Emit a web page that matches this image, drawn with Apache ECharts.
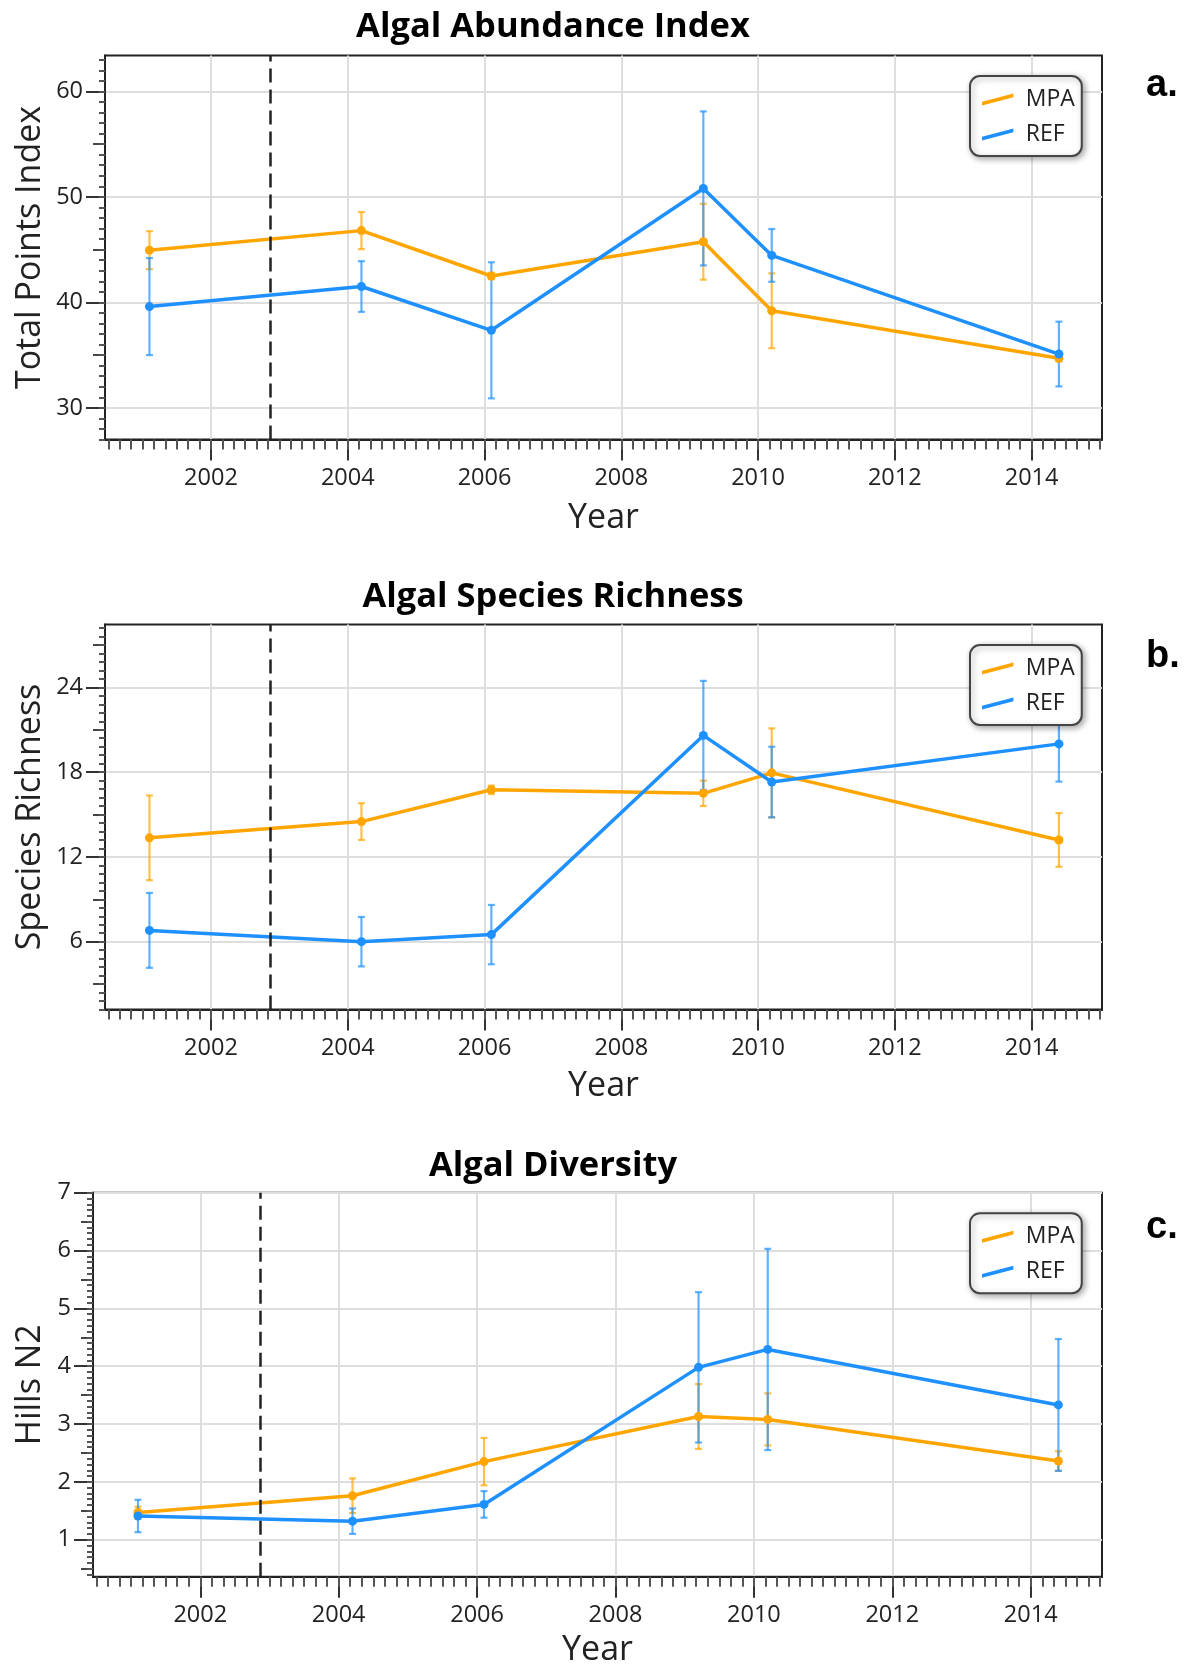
<!DOCTYPE html>
<html>
<head>
<meta charset="utf-8">
<title>Algal community indices, MPA vs reference sites</title>
<script src="https://cdn.jsdelivr.net/npm/echarts@6/dist/echarts.min.js"></script>
<style>
  html, body { margin: 0; padding: 0; background: #ffffff; }
  #chart { width: 1187px; height: 1671px; }
</style>
</head>
<body>
<div id="chart"></div>
<script>
// Survey dates (fractional years) shared by all three panels
const surveyYears = [2001.1, 2004.2, 2006.1, 2009.2, 2010.2, 2014.4];
const yearTicks = [2002, 2004, 2006, 2008, 2010, 2012, 2014];
const reserveEstablished = 2002.87;

// a. Algal abundance (total points index), mean and error
const abundanceMPA = [44.95, 46.8, 42.5, 45.75, 39.2, 34.7];
const abundanceMPAErr = [1.8, 1.76, 0.3, 3.6, 3.55, 0.3];
const abundanceREF = [39.6, 41.5, 37.35, 50.8, 44.45, 35.1];
const abundanceREFErr = [4.6, 2.4, 6.45, 7.3, 2.5, 3.07];
const abundanceTicks = [30, 40, 50, 60];

// b. Algal species richness
const richnessMPA = [13.35, 14.5, 16.75, 16.5, 17.95, 13.2];
const richnessMPAErr = [3.0, 1.3, 0.3, 0.9, 3.15, 1.9];
const richnessREF = [6.8, 6.0, 6.5, 20.6, 17.3, 20.0];
const richnessREFErr = [2.65, 1.75, 2.1, 3.86, 2.5, 2.67];
const richnessTicks = [6, 12, 18, 24];

// c. Algal diversity (Hill's N2)
const diversityMPA = [1.47, 1.76, 2.35, 3.13, 3.08, 2.36];
const diversityMPAErr = [0.1, 0.3, 0.41, 0.56, 0.45, 0.17];
const diversityREF = [1.41, 1.32, 1.61, 3.98, 4.29, 3.33];
const diversityREFErr = [0.28, 0.22, 0.23, 1.3, 1.74, 1.14];
const diversityTicks = [1, 2, 3, 4, 5, 6, 7];

const seriesNames = ['MPA', 'REF'];
const colors = { MPA: '#FFA500', REF: '#1E90FF' };

const X_MIN = 2000.45, X_MAX = 2015.03;

const panels = [
  { letter: 'a.', title: 'Algal Abundance Index', yName: 'Total Points Index',
    mpa: abundanceMPA, mpaErr: abundanceMPAErr, ref: abundanceREF, refErr: abundanceREFErr,
    yTicks: abundanceTicks, yMin: 27, yMax: 63.4, minorStep: 1, midStep: 5,
    left: 105, top: 55.5, height: 384, titleY: 27, letterY: 86, yNameGap: 58, xNameGap: 62 },
  { letter: 'b.', title: 'Algal Species Richness', yName: 'Species Richness',
    mpa: richnessMPA, mpaErr: richnessMPAErr, ref: richnessREF, refErr: richnessREFErr,
    yTicks: richnessTicks, yMin: 1.2, yMax: 28.45, minorStep: 0.6, midStep: 3,
    left: 105, top: 624.5, height: 385, titleY: 597.5, letterY: 657, yNameGap: 58, xNameGap: 60 },
  { letter: 'c.', title: 'Algal Diversity', yName: 'Hills N2',
    mpa: diversityMPA, mpaErr: diversityMPAErr, ref: diversityREF, refErr: diversityREFErr,
    yTicks: diversityTicks, yMin: 0.36, yMax: 7, minorStep: 0.1, midStep: 0.5,
    left: 93, top: 1192.7, height: 384, titleY: 1166.5, letterY: 1228, yNameGap: 46, xNameGap: 57 }
];

// Evenly spaced tick positions inside [min, max]
function stepTicks(min, max, step) {
  const out = [];
  for (let k = Math.ceil(min / step - 1e-9); k * step <= max + 1e-9; k++) {
    out.push(+(k * step).toFixed(4));
  }
  return out;
}
const xMinorTicks = stepTicks(X_MIN, X_MAX, 1 / 6);

// Vertical error bar with small caps
function errorBar(color) {
  return function (params, api) {
    const x = api.value(0);
    const top = api.coord([x, api.value(2)]);
    const bot = api.coord([x, api.value(1)]);
    const cap = 3.5;
    const style = { stroke: color, lineWidth: 2.2, opacity: 0.7 };
    return {
      type: 'group',
      children: [
        { type: 'line', shape: { x1: top[0], y1: top[1], x2: bot[0], y2: bot[1] }, style: style },
        { type: 'line', shape: { x1: top[0] - cap, y1: top[1], x2: top[0] + cap, y2: top[1] }, style: style },
        { type: 'line', shape: { x1: bot[0] - cap, y1: bot[1], x2: bot[0] + cap, y2: bot[1] }, style: style }
      ]
    };
  };
}

const grids = [], xAxes = [], yAxes = [], series = [], legends = [], graphics = [];

panels.forEach(function (p, i) {
  grids.push({
    left: p.left, right: 85, top: p.top, height: p.height,
    show: true, borderColor: '#222', borderWidth: 2, outerBoundsMode: 'none'
  });

  const xBase = { type: 'value', gridIndex: i, min: X_MIN, max: X_MAX, position: 'bottom' };
  xAxes.push(Object.assign({}, xBase, {
    name: 'Year', nameLocation: 'middle', nameGap: p.xNameGap, nameMoveOverlap: false,
    nameTextStyle: { fontSize: 34, color: '#222' },
    axisLine: { onZero: false, lineStyle: { color: '#222', width: 2 } },
    axisTick: { customValues: yearTicks, length: 21, lineStyle: { color: '#333', width: 2 } },
    axisLabel: { customValues: yearTicks, margin: 27, fontSize: 23.5, color: '#222',
                 formatter: function (v) { return String(v); } },
    splitLine: { show: true, lineStyle: { color: '#dedede', width: 2 } }
  }));
  xAxes.push(Object.assign({}, xBase, {
    axisLine: { show: false },
    axisTick: { customValues: xMinorTicks, length: 10, lineStyle: { color: '#555', width: 2 } },
    axisLabel: { show: false },
    splitLine: { show: false }
  }));

  const yBase = { type: 'value', gridIndex: i, min: p.yMin, max: p.yMax, position: 'left' };
  const midTicks = stepTicks(p.yMin, p.yMax, p.midStep).filter(function (v) {
    return p.yTicks.indexOf(v) < 0;
  });
  yAxes.push(Object.assign({}, yBase, {
    name: p.yName, nameLocation: 'middle', nameGap: p.yNameGap, nameMoveOverlap: false,
    nameTextStyle: { fontSize: 34, color: '#222' },
    axisLine: { onZero: false, lineStyle: { color: '#222', width: 2 } },
    axisTick: { customValues: p.yTicks, length: 19, lineStyle: { color: '#333', width: 2 } },
    axisLabel: { customValues: p.yTicks, margin: 22, fontSize: 23.5, color: '#222',
                 formatter: function (v) { return String(v); } },
    splitLine: { show: true, lineStyle: { color: '#dedede', width: 2 } }
  }));
  yAxes.push(Object.assign({}, yBase, {
    axisLine: { show: false },
    axisTick: { customValues: midTicks, length: 12, lineStyle: { color: '#444', width: 2 } },
    axisLabel: { show: false }, splitLine: { show: false }
  }));
  yAxes.push(Object.assign({}, yBase, {
    axisLine: { show: false },
    axisTick: { customValues: stepTicks(p.yMin, p.yMax, p.minorStep), length: 6,
                lineStyle: { color: '#555', width: 2 } },
    axisLabel: { show: false }, splitLine: { show: false }
  }));

  const groups = [
    { name: 'MPA', mean: p.mpa, err: p.mpaErr },
    { name: 'REF', mean: p.ref, err: p.refErr }
  ];
  groups.forEach(function (g) {
    series.push({
      type: 'custom', name: g.name + ' error', xAxisIndex: 2 * i, yAxisIndex: 3 * i,
      renderItem: errorBar(colors[g.name]), silent: true, z: 2,
      encode: { x: 0, y: [1, 2] },
      data: surveyYears.map(function (x, k) {
        return [x, g.mean[k] - g.err[k], g.mean[k] + g.err[k]];
      })
    });
  });
  groups.forEach(function (g, gi) {
    const s = {
      type: 'line', name: g.name, xAxisIndex: 2 * i, yAxisIndex: 3 * i, z: 3,
      symbol: 'circle', symbolSize: 9, showSymbol: true,
      lineStyle: { width: 3.5, color: colors[g.name] },
      itemStyle: { color: colors[g.name], borderWidth: 0 },
      data: surveyYears.map(function (x, k) { return [x, g.mean[k]]; })
    };
    if (gi === 0) {
      s.markLine = {
        silent: true, symbol: ['none', 'none'], label: { show: false },
        lineStyle: { type: [14, 7], color: '#222', width: 2.5 },
        data: [{ xAxis: reserveEstablished }]
      };
    }
    series.push(s);
  });

  legends.push({
    orient: 'vertical', left: 970, top: p.top + 20.5, data: seriesNames,
    icon: 'path://M0,9 L34,0 L34,4 L0,13 Z', itemWidth: 34, itemHeight: 12, itemGap: 12,
    padding: [12, 7, 10, 12], backgroundColor: '#ffffff', borderColor: '#444', borderWidth: 2,
    borderRadius: 10, shadowBlur: 6, shadowColor: 'rgba(0,0,0,0.35)', shadowOffsetX: 2, shadowOffsetY: 2,
    itemStyle: { borderWidth: 0 }, selectedMode: false,
    textStyle: { fontSize: 23, color: '#222', padding: [0, 0, 0, 6] }
  });

  graphics.push({
    type: 'text', x: 553, y: p.titleY, silent: true,
    style: { text: p.title, align: 'center', verticalAlign: 'middle',
             fontFamily: 'Open Sans', fontWeight: 'bold', fontSize: 34.5, fill: '#000' }
  });
  graphics.push({
    type: 'text', x: 1146, y: p.letterY, silent: true,
    style: { text: p.letter, align: 'left', verticalAlign: 'middle',
             fontFamily: 'Liberation Sans', fontWeight: 'bold', fontSize: 38, fill: '#000' }
  });
});

const chart = echarts.init(document.getElementById('chart'), null, { renderer: 'canvas' });
chart.setOption({
  animation: false,
  backgroundColor: '#ffffff',
  textStyle: { fontFamily: 'Open Sans' },
  grid: grids,
  xAxis: xAxes,
  yAxis: yAxes,
  legend: legends,
  graphic: graphics,
  series: series
});
</script>
</body>
</html>
